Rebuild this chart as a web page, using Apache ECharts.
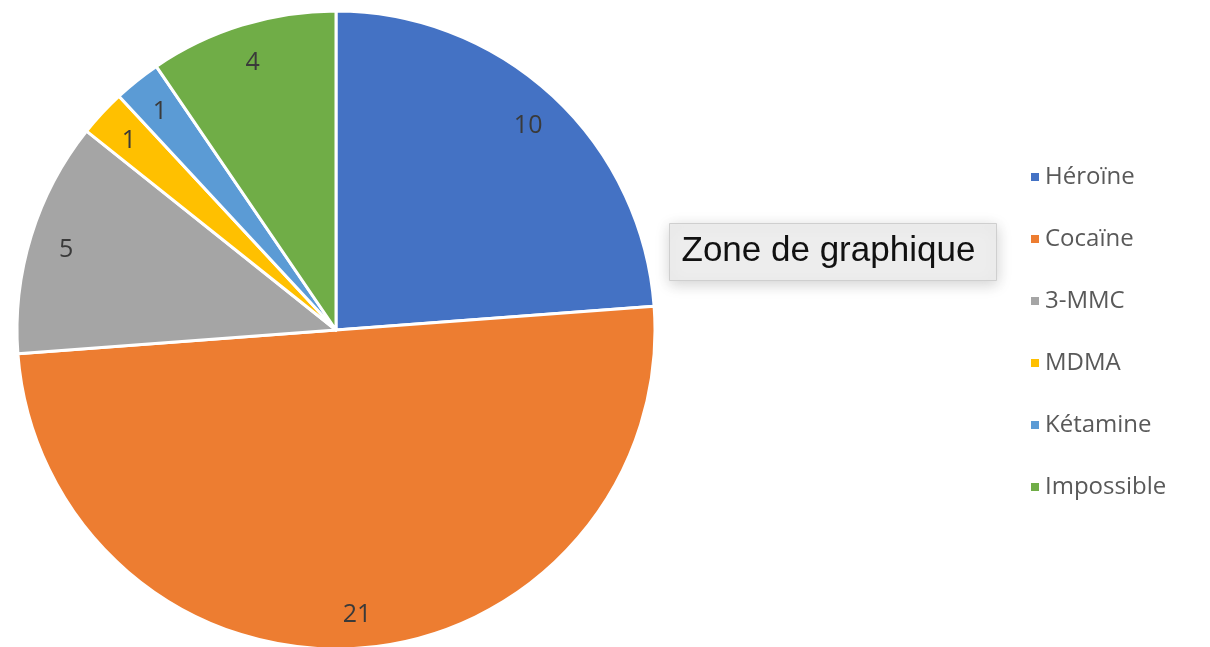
<!DOCTYPE html>
<html>
<head>
<meta charset="utf-8">
<script src="https://cdn.jsdelivr.net/npm/echarts@6/dist/echarts.min.js"></script>
<style>
html,body{margin:0;padding:0;background:#fff;}
#container{width:1210px;height:647px;}
</style>
</head>
<body>
<div id="container"></div>
<script>
// categories and values
var categories = ['Héroïne', 'Cocaïne', '3-MMC', 'MDMA', 'Kétamine', 'Impossible'];
var values = [10, 21, 5, 1, 1, 4];
var colors = ['#4472C4', '#ED7D31', '#A5A5A5', '#FFC000', '#5B9BD5', '#70AD47'];

var chart = echarts.init(document.getElementById('container'));

var pieData = [];
var labelData = [];
for (var i = 0; i < categories.length; i++) {
	pieData.push({ name: categories[i], value: values[i], itemStyle: { color: colors[i] } });
	labelData.push({ name: categories[i], value: values[i] });
}

var option = {
	backgroundColor: '#fff',
	animation: false,
	legend: {
		orient: 'vertical',
		left: 1024,
		top: 157,
		data: categories,
		icon: 'rect',
		itemWidth: 10,
		itemHeight: 10,
		itemGap: 32,
		textStyle: {
			fontFamily: 'Open Sans',
			fontSize: 24,
			color: '#595959',
			lineHeight: 30
		}
	},
	graphic: [{
		type: 'group',
		left: 669,
		top: 223,
		children: [{
			type: 'rect',
			shape: { x: 0, y: 0, width: 327, height: 57 },
			style: {
				fill: '#ededed',
				stroke: '#cfcfcf',
				lineWidth: 1,
				shadowBlur: 14,
				shadowColor: 'rgba(0,0,0,0.18)',
				shadowOffsetY: 3
			}
		}, {
			type: 'text',
			x: 12,
			y: 10,
			style: {
				text: 'Zone de graphique',
				font: '35px "Liberation Sans", Arial, sans-serif',
				fill: '#111'
			}
		}]
	}],
	series: [{
		name: 'pie',
		type: 'pie',
		center: [336, 330],
		radius: [0, 319],
		startAngle: 90,
		clockwise: true,
		silent: true,
		itemStyle: { borderColor: '#fff', borderWidth: 3 },
		label: { show: false },
		labelLine: { show: false },
		data: pieData
	}, {
		// transparent ring used only to place value labels near the outer edge
		name: 'labels',
		type: 'pie',
		center: [336, 333],
		radius: [240, 319],
		startAngle: 90,
		clockwise: true,
		silent: true,
		legendHoverLink: false,
		itemStyle: { color: 'rgba(0,0,0,0)', borderWidth: 0 },
		label: {
			show: true,
			position: 'inside',
			formatter: '{c}',
			fontFamily: 'Open Sans',
			fontSize: 25,
			color: '#3a3a3a'
		},
		labelLine: { show: false },
		data: labelData
	}]
};
chart.setOption(option);
</script>
</body>
</html>
